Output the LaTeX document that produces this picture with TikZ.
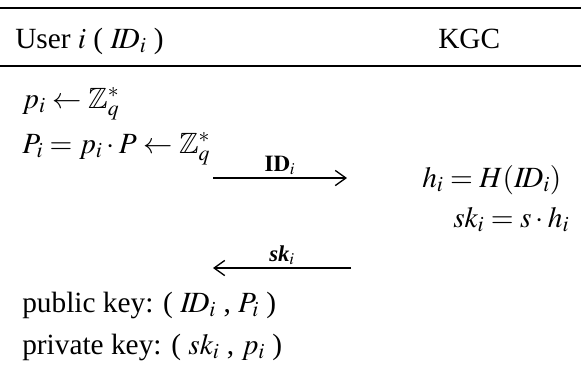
\documentclass[tikz,border=0pt]{standalone}
\usepackage{amsmath,amssymb}
\usepackage{mathptmx}
\usepackage[no-math]{fontspec}
\setmainfont{Liberation Serif}
\usetikzlibrary{arrows.meta,positioning}

\begin{document}
\begin{tikzpicture}[
  x=0.75pt, y=-0.75pt,
  font=\fontsize{22}{26}\selectfont,
  txt/.style={anchor=base west, inner sep=0pt},
  rule/.style={line width=1.6pt},
  msg/.style={-{Straight Barb[length=2.8mm,width=4mm]}, line width=1pt},
  lbl/.style={above=2pt, inner sep=0pt, font=\fontsize{17}{20}\selectfont}
]
\useasboundingbox (0,0) rectangle (581,369);
% header
\coordinate (topL) at (0,8);
\coordinate (topR) at (581,8);
\coordinate (midL) at (0,66);
\coordinate (midR) at (581,66);
\draw[rule] (topL) -- (topR);
\draw[rule] (midL) -- (midR);
\node[txt] (user) at (15,48) {User $i$ ( $I\!D_i$ )};
\node[txt] (kgc) at (438,48) {KGC};

% user side
\node[txt] (pick) at (22,108) {$p_i \leftarrow \mathbb{Z}_q^*$};
\node[txt] (pub) at (22,153) {$P_i = p_i \cdot P \leftarrow \mathbb{Z}_q^*$};

% KGC side
\node[txt] (hash) at (422,187) {$h_i = H(I\!D_i)$};
\node[txt] (sk) at (453,227) {$sk_i = s \cdot h_i$};

% messages
\coordinate (m1a) at (213,178);
\coordinate (m1b) at (347,178);
\coordinate (m2a) at (351,268);
\coordinate (m2b) at (213,268);
\draw[msg] (m1a) -- node[lbl] {$\mathbf{ID}_i$} (m1b);
\draw[msg] (m2a) -- node[lbl] {\textbf{\textit{sk}}$_{\boldsymbol{i}}$} (m2b);

% keys
\node[txt] (pk) at (22,312) {public key: ( $I\!D_i$ , $P_i$ )};
\node[txt] (prk) at (22,354) {private key: ( $sk_i$ , $p_i$ )};
\end{tikzpicture}
\end{document}
